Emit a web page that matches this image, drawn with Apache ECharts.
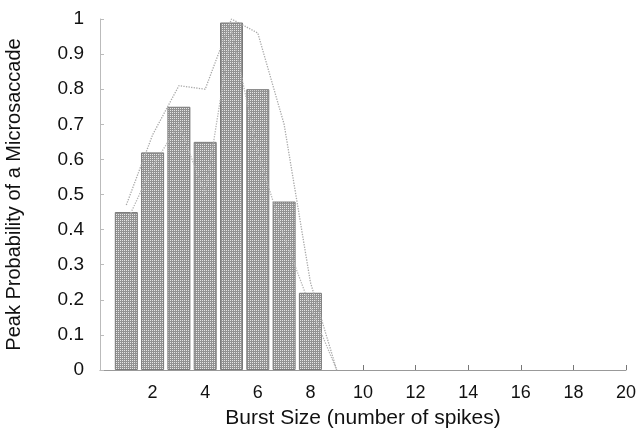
<!DOCTYPE html>
<html>
<head>
<meta charset="utf-8">
<script src="https://cdn.jsdelivr.net/npm/echarts@6/dist/echarts.min.js"></script>
<style>
  html, body { margin: 0; padding: 0; background: #fff; }
  #chart { width: 636px; height: 432px; }
</style>
</head>
<body>
<div id="chart"></div>
<script>
// burst size bins and peak probabilities
const burstSizes = [1, 2, 3, 4, 5, 6, 7, 8];
const peakProb = [0.45, 0.62, 0.75, 0.65, 0.99, 0.80, 0.48, 0.22];
// dotted bounds
const boundX = [1, 2, 3, 4, 5, 6, 7, 8, 9];
const upperBound = [0.47, 0.67, 0.81, 0.80, 1.0, 0.96, 0.70, 0.25, 0];
const lowerBound = [0.42, 0.58, 0.70, 0.50, 0.97, 0.62, 0.38, 0.18, 0];

// small dotted fill like the original hatch
function makePattern() {
  const c = document.createElement('canvas')
  c.width = 2
  c.height = 2
  const ctx = c.getContext('2d')
  ctx.fillStyle = '#929292'
  ctx.fillRect(0, 0, 2, 2)
  ctx.fillStyle = '#e6e6e6'
  ctx.fillRect(0, 0, 1, 1)
  return c
}

const font = '"Liberation Sans", Arial, sans-serif'
const chart = echarts.init(document.getElementById('chart'))

chart.setOption({
  animation: false,
  grid: { left: 100, right: 10, top: 19, bottom: 62, outerBoundsMode: 'none' },
  xAxis: {
    type: 'value',
    min: 0, max: 20, interval: 2,
    name: 'Burst Size (number of spikes)',
    nameLocation: 'middle',
    nameGap: 38,
    nameTextStyle: { fontFamily: font, fontSize: 21, color: '#111' },
    axisLine: { lineStyle: { color: '#999' } },
    axisTick: { inside: true, length: 5, lineStyle: { color: '#777' } },
    axisLabel: {
      showMinLabel: false,
      fontFamily: font, fontSize: 18, color: '#111', margin: 14
    },
    splitLine: { show: false }
  },
  yAxis: {
    type: 'value',
    min: 0, max: 1, interval: 0.1,
    name: 'Peak Probability of a Microsaccade',
    nameLocation: 'middle',
    nameGap: 76,
    nameTextStyle: { fontFamily: font, fontSize: 20, color: '#111' },
    axisLine: { show: true, lineStyle: { color: '#bbb' } },
    axisTick: { show: true, inside: true, length: 4, lineStyle: { color: '#bbb' } },
    axisLabel: {
      fontFamily: font, fontSize: 19, color: '#111', margin: 16,
      formatter: v => String(Math.round(v * 10) / 10)
    },
    splitLine: { show: false }
  },
  series: [
    {
      type: 'bar',
      barWidth: 23,
      data: burstSizes.map((x, i) => [x, peakProb[i]]),
      itemStyle: {
        color: { image: makePattern(), repeat: 'repeat' },
        borderColor: '#7a7a7a',
        borderWidth: 1
      }
    },
    {
      type: 'line',
      data: boundX.map((x, i) => [x, upperBound[i]]),
      symbol: 'none',
      z: 3,
      lineStyle: { type: 'dotted', color: '#a8a8a8', width: 1.3 }
    },
    {
      type: 'line',
      data: boundX.map((x, i) => [x, lowerBound[i]]),
      symbol: 'none',
      z: 3,
      lineStyle: { type: 'dotted', color: '#b5b5b5', width: 1.3 }
    }
  ]
})
</script>
</body>
</html>
